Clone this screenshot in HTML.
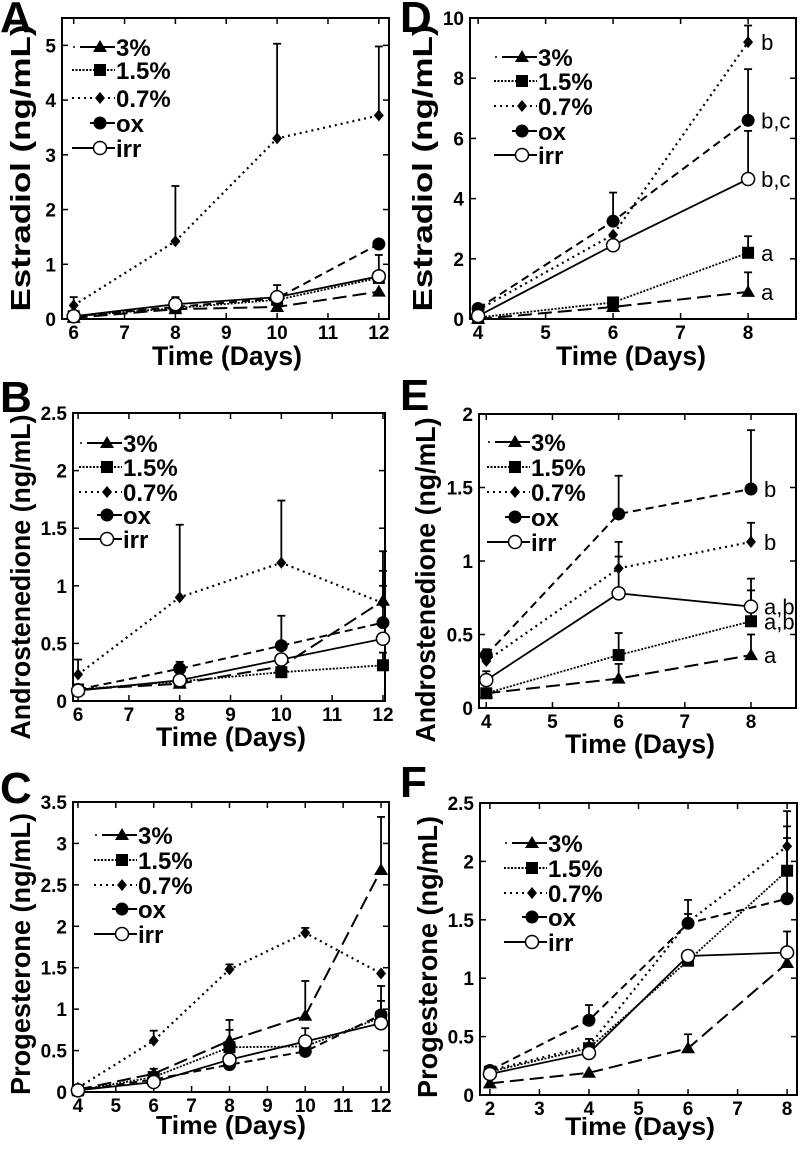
<!DOCTYPE html>
<html><head><meta charset="utf-8"><style>
html,body{margin:0;padding:0;background:#fff;}
svg{display:block;font-family:"Liberation Sans",Arial,sans-serif;font-weight:bold;}
</style></head><body>
<svg id="fig" width="800" height="1149" viewBox="0 0 800 1149" xmlns="http://www.w3.org/2000/svg"></svg>
<script>
// ---------- DATA ----------
const seriesNames = ["3%","1.5%","0.7%","ox","irr"];
// Panel A: Estradiol, days 6-12
const daysA = [6,8,10,12];
const a3 = [0.02,0.18,0.22,0.5];
const a15 = [0.05,0.2,0.35,0.75];
const a07 = [0.25,1.42,3.3,3.72];
const aOx = [0.05,0.22,0.38,1.37];
const aIrr = [0.05,0.27,0.4,0.78];
const aErrTop07 = [0.4,2.43,5.03,4.98];
const aErrTopIrr = [0.1,0.4,0.62,1.17];
// Panel D: Estradiol, days 4-8
const daysD = [4,6,8];
const d3 = [0.0,0.4,0.9];
const d15 = [0.05,0.55,2.2];
const d07 = [0.3,2.8,9.2];
const dOx = [0.35,3.25,6.6];
const dIrr = [0.1,2.45,4.65];
const dErrTop3 = [0.0,0.5,1.55];
const dErrTop15 = [0.05,0.6,2.75];
const dErrTop07 = [0.3,2.8,9.75];
const dErrTopOx = [0.35,4.2,8.3];
const dErrTopIrr = [0.1,2.45,6.25];
const dLetters = ["a","a","b","b,c","b,c"];
// Panel B: Androstenedione, days 6-12
const daysB = [6,8,10,12];
const b3 = [0.1,0.15,0.3,0.87];
const b15 = [0.1,0.17,0.25,0.31];
const b07 = [0.23,0.9,1.2,0.85];
const bOx = [0.1,0.28,0.48,0.68];
const bIrr = [0.09,0.18,0.36,0.54];
const bErrTop3 = [0.1,0.15,0.3,1.0];
const bErrTop15 = [0.1,0.17,0.25,0.42];
const bErrTop07 = [0.36,1.53,1.74,1.3];
const bErrTopOx = [0.1,0.34,0.74,1.13];
// Panel E: Androstenedione, days 4-8
const daysE = [4,6,8];
const e3 = [0.1,0.2,0.36];
const e15 = [0.1,0.36,0.59];
const e07 = [0.32,0.95,1.13];
const eOx = [0.36,1.32,1.49];
const eIrr = [0.19,0.78,0.69];
const eErrTop3 = [0.1,0.3,0.5];
const eErrTop15 = [0.1,0.51,0.8];
const eErrTop07 = [0.35,1.13,1.26];
const eErrTopOx = [0.4,1.58,1.89];
const eErrTopIrr = [0.25,1.03,0.88];
const eLetters = ["a","a,b","b","b","a,b"];
// Panel C: Progesterone, days 4-12
const daysC = [4,6,8,10,12];
const c3 = [0.03,0.22,0.62,0.92,2.68];
const c15 = [0.02,0.18,0.54,0.55,0.9];
const c07 = [0.05,0.62,1.48,1.92,1.43];
const cOx = [0.02,0.15,0.33,0.49,0.93];
const cIrr = [0.02,0.12,0.39,0.61,0.83];
const cErrTop3 = [0.03,0.28,0.75,1.34,3.32];
const cErrTop15 = [0.02,0.2,0.87,0.77,1.1];
const cErrTop07 = [0.05,0.74,1.54,1.98,1.43];
const cErrTopOx = [0.02,0.15,0.33,0.49,1.28];
// Panel F: Progesterone, days 2-8
const daysF = [2,4,6,8];
const f3 = [0.1,0.19,0.4,1.13];
const f15 = [0.2,0.4,1.15,1.92];
const f07 = [0.21,0.42,1.48,2.13];
const fOx = [0.21,0.64,1.47,1.68];
const fIrr = [0.18,0.36,1.19,1.22];
const fErrTop3 = [0.1,0.19,0.52,1.13];
const fErrTop15 = [0.2,0.48,1.15,2.3];
const fErrTop07 = [0.21,0.42,1.55,2.43];
const fErrTopOx = [0.21,0.77,1.67,2.2];
const fErrTopIrr = [0.18,0.36,1.19,1.4];
const xTicksA = [6,7,8,9,10,11,12];
const yTicksA = [0,1,2,3,4,5];
const xTicksD = [4,5,6,7,8];
const yTicksD = [0,2,4,6,8,10];
const xTicksB = [6,7,8,9,10,11,12];
const yTicksB = [0,0.5,1,1.5,2,2.5];
const xTicksE = [4,5,6,7,8];
const yTicksE = [0,0.5,1,1.5,2];
const xTicksC = [4,5,6,7,8,9,10,11,12];
const yTicksC = [0,0.5,1,1.5,2,2.5,3,3.5];
const xTicksF = [2,3,4,5,6,7,8];
const yTicksF = [0,0.5,1,1.5,2,2.5];

// ---------- DRAWING ----------
const NS="http://www.w3.org/2000/svg";
const svg=document.getElementById('fig');
function mk(tag,attrs,parent){const e=document.createElementNS(NS,tag);for(const k in attrs)e.setAttribute(k,attrs[k]);(parent||svg).appendChild(e);return e;}
const dashes={"3%":"14,6","1.5%":"2,1.5","0.7%":"2,4","ox":"8,5","irr":""};
const widths={"3%":2,"1.5%":1.8,"0.7%":2.2,"ox":2,"irr":1.8};

function marker(g,kind,x,y){
  let m;
  if(kind==="3%") m=mk('polygon',{points:`${x},${y-7} ${x+7},${y+5} ${x-7},${y+5}`,fill:'#000'},g);
  else if(kind==="1.5%") m=mk('rect',{x:x-6,y:y-6,width:12,height:12,fill:'#000'},g);
  else if(kind==="0.7%") m=mk('polygon',{points:`${x},${y-6} ${x+5},${y} ${x},${y+6} ${x-5},${y}`,fill:'#000'},g);
  else if(kind==="ox") m=mk('circle',{cx:x,cy:y,r:6.5,fill:'#000'},g);
  else m=mk('circle',{cx:x,cy:y,r:6.5,fill:'#fff',stroke:'#000','stroke-width':1.5},g);
  
  
}

function panel(p){
  const g=mk('g',{});
  
  
  const sx=v=>p.L+(v-p.x0)/(p.x1-p.x0)*(p.R-p.L);
  const sy=v=>p.B-(v-p.y0)/(p.y1-p.y0)*(p.B-p.T);
  const fr=mk('rect',{x:p.L,y:p.T,width:p.R-p.L,height:p.B-p.T,fill:'none',stroke:'#000','stroke-width':2},g);
  
  p.xt.forEach(v=>{const X=sx(v);
    mk('line',{x1:X,y1:p.B,x2:X,y2:p.B-6,stroke:'#000','stroke-width':1.5},g);
    mk('line',{x1:X,y1:p.T,x2:X,y2:p.T+6,stroke:'#000','stroke-width':1.5},g);
    const t=mk('text',{x:X,y:p.B+20,'text-anchor':'middle','font-size':19},g);t.textContent=v;
    });
  p.yt.forEach(v=>{const Y=sy(v);
    mk('line',{x1:p.L,y1:Y,x2:p.L+6,y2:Y,stroke:'#000','stroke-width':1.5},g);
    mk('line',{x1:p.R,y1:Y,x2:p.R-6,y2:Y,stroke:'#000','stroke-width':1.5},g);
    const t=mk('text',{x:p.L-6,y:Y+7,'text-anchor':'end','font-size':19},g);t.textContent=v;
    });
  const xt=mk('text',{x:p.xtX,y:p.B+p.xtDy,'text-anchor':'middle','font-size':p.xtFs,textLength:150,lengthAdjust:'spacingAndGlyphs'},g);
  xt.textContent='Time (Days)';
  const yt=mk('text',{x:0,y:0,'text-anchor':'middle','font-size':28,textLength:p.ytLen,lengthAdjust:'spacingAndGlyphs',transform:`translate(${p.ytX},${p.ytY}) rotate(-90)`},g);
  yt.textContent=p.ytitle;
  const lt=mk('text',{x:p.lx,y:p.ly,'font-size':44},g);lt.textContent=p.letter;
  
  p.series.forEach((s,i)=>{
    const name=seriesNames[i];
    const sg=mk('g',{},g);
    
    
    if(s.err) s.err.forEach((e,j)=>{ if(e>s.v[j]+0.001){const X=sx(p.x[j]);
      mk('line',{x1:X,y1:sy(s.v[j]),x2:X,y2:sy(e),stroke:'#000','stroke-width':1.8},sg);
      mk('line',{x1:X-4,y1:sy(e),x2:X+4,y2:sy(e),stroke:'#000','stroke-width':1.8},sg);}});
    const pts=s.v.map((v,j)=>sx(p.x[j])+','+sy(v)).join(' ');
    const pl=mk('polyline',{points:pts,fill:'none',stroke:'#000','stroke-width':widths[name]},sg);
    if(dashes[name])pl.setAttribute('stroke-dasharray',dashes[name]);
    
    s.v.forEach((v,j)=>marker(sg,name,sx(p.x[j]),sy(v)));
    if(p.letters){const last=s.v.length-1;
      const t=mk('text',{x:sx(p.x[last])+13,y:sy(s.v[last])+8,'font-size':22,'font-weight':'normal'},sg);
      t.textContent=p.letters[i];}
  });
  const lg=mk('g',{},g);
  seriesNames.forEach((n,i)=>{
    const y=p.legY[i],mx=p.legX;
    const eg=mk('g',{},lg);
    const startX = n==="3%"?mx-20:(n==="ox"?mx-10:mx-28);
    if(n==="3%") mk('circle',{cx:mx-26,cy:y,r:1,fill:'#000'},eg);
    const l=mk('line',{x1:startX,y1:y,x2:mx+15,y2:y,stroke:'#000','stroke-width':2},eg);
    if(n==="1.5%")l.setAttribute('stroke-dasharray','2,1.5');
    if(n==="0.7%")l.setAttribute('stroke-dasharray','2,4');
    marker(eg,n,mx,y);
    const t=mk('text',{x:mx+16,y:y+9,'font-size':24},eg);t.textContent=n;
  });
}

const P=[
 {letter:'A',L:62,R:389,T:18,B:319,x0:5.77,x1:12.2,y0:0,y1:5.5,xt:xTicksA,yt:yTicksA,x:daysA,
  series:[{v:a3},{v:a15},{v:a07,err:aErrTop07},{v:aOx},{v:aIrr,err:aErrTopIrr}],
  ytitle:'Estradiol (ng/mL)',ytX:30,ytY:168,ytLen:287,xtX:227,xtDy:46,xtFs:27,lx:0,ly:32,legX:100,legY:[47,70,98,123,148]},
 {letter:'D',L:470,R:796,T:18,B:319,x0:3.88,x1:8.71,y0:0,y1:10,xt:xTicksD,yt:yTicksD,x:daysD,
  series:[{v:d3,err:dErrTop3},{v:d15,err:dErrTop15},{v:d07,err:dErrTop07},{v:dOx,err:dErrTopOx},{v:dIrr,err:dErrTopIrr}],
  letters:dLetters,ytitle:'Estradiol (ng/mL)',ytX:432,ytY:168,ytLen:287,xtX:631,xtDy:46,xtFs:27,lx:400,ly:32,legX:522,legY:[57,81,106,131,155]},
 {letter:'B',L:73,R:385,T:413,B:701,x0:5.9,x1:12.04,y0:0,y1:2.5,xt:xTicksB,yt:yTicksB,x:daysB,
  series:[{v:b3,err:bErrTop3},{v:b15,err:bErrTop15},{v:b07,err:bErrTop07},{v:bOx,err:bErrTopOx},{v:bIrr}],
  ytitle:'Androstenedione (ng/mL)',ytX:30,ytY:577,ytLen:325,xtX:231,xtDy:45,xtFs:27,lx:0,ly:412,legX:107,legY:[443,467,492,515,539]},
 {letter:'E',L:479,R:796,T:414,B:708,x0:3.89,x1:8.68,y0:0,y1:2,xt:xTicksE,yt:yTicksE,x:daysE,
  series:[{v:e3,err:eErrTop3},{v:e15,err:eErrTop15},{v:e07,err:eErrTop07},{v:eOx,err:eErrTopOx},{v:eIrr,err:eErrTopIrr}],
  letters:eLetters,ytitle:'Androstenedione (ng/mL)',ytX:435,ytY:580,ytLen:325,xtX:640,xtDy:45,xtFs:27,lx:400,ly:410,legX:515,legY:[442,467,492,517,542]},
 {letter:'C',L:73,R:389,T:802,B:1092,x0:3.87,x1:12.21,y0:0,y1:3.5,xt:xTicksC,yt:yTicksC,x:daysC,
  series:[{v:c3,err:cErrTop3},{v:c15,err:cErrTop15},{v:c07,err:cErrTop07},{v:cOx,err:cErrTopOx},{v:cIrr}],
  ytitle:'Progesterone (ng/mL)',ytX:30,ytY:954,ytLen:282,xtX:231,xtDy:42,xtFs:26,lx:0,ly:803,legX:122,legY:[835,860,885,909,934]},
 {letter:'F',L:480,R:797,T:803,B:1095,x0:1.8,x1:8.2,y0:0,y1:2.5,xt:xTicksF,yt:yTicksF,x:daysF,
  series:[{v:f3,err:fErrTop3},{v:f15,err:fErrTop15},{v:f07,err:fErrTop07},{v:fOx,err:fErrTopOx},{v:fIrr,err:fErrTopIrr}],
  ytitle:'Progesterone (ng/mL)',ytX:437,ytY:957,ytLen:282,xtX:640,xtDy:40,xtFs:25,lx:400,ly:797,legX:532,legY:[843,868,893,917,942]}
];
P.forEach(panel);
</script>
</body></html>
